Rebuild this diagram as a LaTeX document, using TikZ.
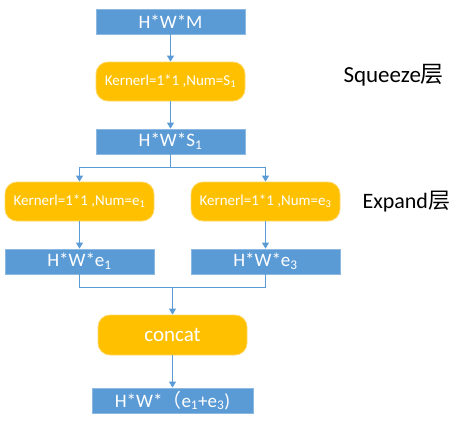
\documentclass[tikz,border=0pt]{standalone}
\usepackage{fontspec}
\setmainfont{Carlito}
\newfontfamily\cjk{Noto Sans CJK SC}
\usetikzlibrary{arrows.meta,positioning}
\definecolor{boxblue}{HTML}{5B9BD5}
\definecolor{boxedge}{HTML}{8DB8E2}
\definecolor{opgold}{HTML}{FFC000}
\definecolor{opedge}{HTML}{FFD766}
\newcommand\subx[1]{\textsubscript{#1}}
\tikzset{
  datbox/.style={draw=boxedge, line width=0.8pt, fill=boxblue, text=white, minimum width=149pt, minimum height=25pt, inner sep=0pt, font=\fontsize{19}{19}\selectfont},
  opbox/.style={draw=opedge, line width=0.8pt, fill=opgold, text=white, rounded corners=12pt, minimum width=149pt, minimum height=39pt, inner sep=0pt, font=\fontsize{15}{15}\selectfont},
  arr/.style={draw=boxblue, line width=0.9pt, -{Triangle[width=7pt,length=6pt]}},
  lbl/.style={font=\fontsize{23}{23}\selectfont, text=black}
}
\begin{document}
\begin{tikzpicture}[x=1pt,y=-1pt]
\useasboundingbox (0,0) rectangle (465,428);
\node[datbox] (top) at (170.5,21.5) {H*W*M};
\node[opbox] (k1) at (170.5,81.5) {Kernerl=1*1 ,Num=S\subx{1}};
\node[datbox] (s1) at (170.5,141.5) {H*W*S\subx{1}};
\node[opbox] (kl) at (79.5,201.5) {Kernerl=1*1 ,Num=e\subx{1}};
\node[opbox] (kr) at (265.5,201.5) {Kernerl=1*1 ,Num=e\subx{3}};
\node[datbox] (e1) at (79.5,261.5) {H*W*e\subx{1}};
\node[datbox] (e3) at (265.5,261.5) {H*W*e\subx{3}};
\node[opbox, minimum height=40pt, font=\fontsize{21}{21}\selectfont] (cc) at (172.5,335) {concat};
\node[datbox, minimum width=161pt] (out) at (172.5,400.5) {H*W*{\cjk （}e\subx{1}+e\subx{3})};
\node[lbl, anchor=west] (sq) at (340,75) {Squeeze{\cjk 层}};
\node[lbl, anchor=west, font=\fontsize{22}{22}\selectfont] (ex) at (359,202) {Expand{\cjk 层}};
\draw[arr] (top) -- (k1);
\draw[arr] (k1) -- (s1);
\coordinate (split) at (170.5,167);
\draw[boxblue, line width=0.9pt] (s1.south) -- (split);
\draw[arr] (split) -| (kl.north);
\draw[arr] (split) -| (kr.north);
\draw[arr] (kl) -- (e1);
\draw[arr] (kr) -- (e3);
\coordinate (merge) at (172.5,287);
\draw[boxblue, line width=0.9pt] (e1.south) |- (merge);
\draw[boxblue, line width=0.9pt] (e3.south) |- (merge);
\draw[arr] (merge) -- (cc.north);
\draw[arr] (cc) -- (out);
\end{tikzpicture}
\end{document}
